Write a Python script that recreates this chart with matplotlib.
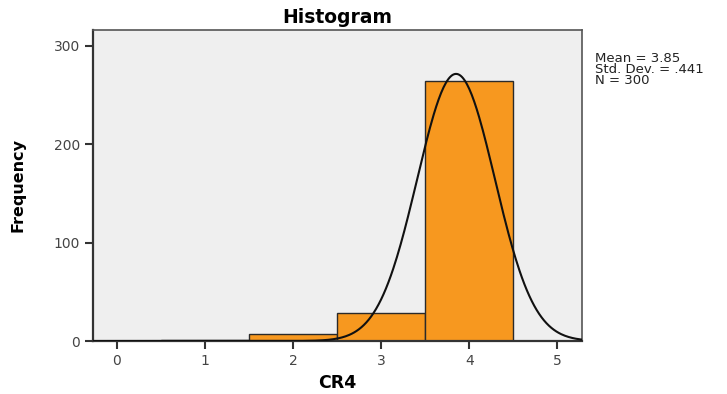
import numpy as np
import matplotlib.pyplot as plt

plt.rcParams["font.family"] = ["DejaVu Sans"]

# CR4 responses and their counts
values = [1, 2, 3, 4]
counts = [1, 7, 28, 264]
mean = 3.85
std_dev = 0.441
n = 300

fig = plt.figure(figsize=(7.27, 3.94), dpi=100)
ax = fig.add_axes([0.128, 0.1345, 0.6726, 0.7894])
ax.set_facecolor("#efefef")

ax.bar(values, counts, width=1.0, color="#f7981f", edgecolor="#2a2a2a", linewidth=1.0, zorder=2)

# normal curve scaled to counts (bin width = 1)
x = np.linspace(-0.27, 5.28, 400)
y = n / (std_dev * np.sqrt(2 * np.pi)) * np.exp(-0.5 * ((x - mean) / std_dev) ** 2)
ax.plot(x, y, color="#111111", linewidth=1.5, zorder=3)

ax.set_xlim(-0.27, 5.28)
ax.set_ylim(0, 316)
ax.set_xticks([0, 1, 2, 3, 4, 5])
ax.set_yticks([0, 100, 200, 300])
ax.tick_params(axis="both", direction="out", length=6, width=1.5, color="#333333",
               labelcolor="#444444", labelsize=10)

for side in ["top", "right"]:
    ax.spines[side].set_color("#555555")
    ax.spines[side].set_linewidth(1.2)
for side in ["left", "bottom"]:
    ax.spines[side].set_color("#333333")
    ax.spines[side].set_linewidth(1.6)

ax.set_title("Histogram", fontsize=13.5, fontweight="bold", pad=5)
ax.set_xlabel("CR4", fontsize=12.5, fontweight="bold", labelpad=4)
ax.set_ylabel("Frequency", fontsize=11.5, fontweight="bold", labelpad=20)

fig.text(0.818, 0.867, "Mean = 3.85\nStd. Dev. = .441\nN = 300", fontsize=9.5,
         va="top", ha="left", linespacing=0.8, color="#222222")

fig.savefig("out.png", dpi=100)
